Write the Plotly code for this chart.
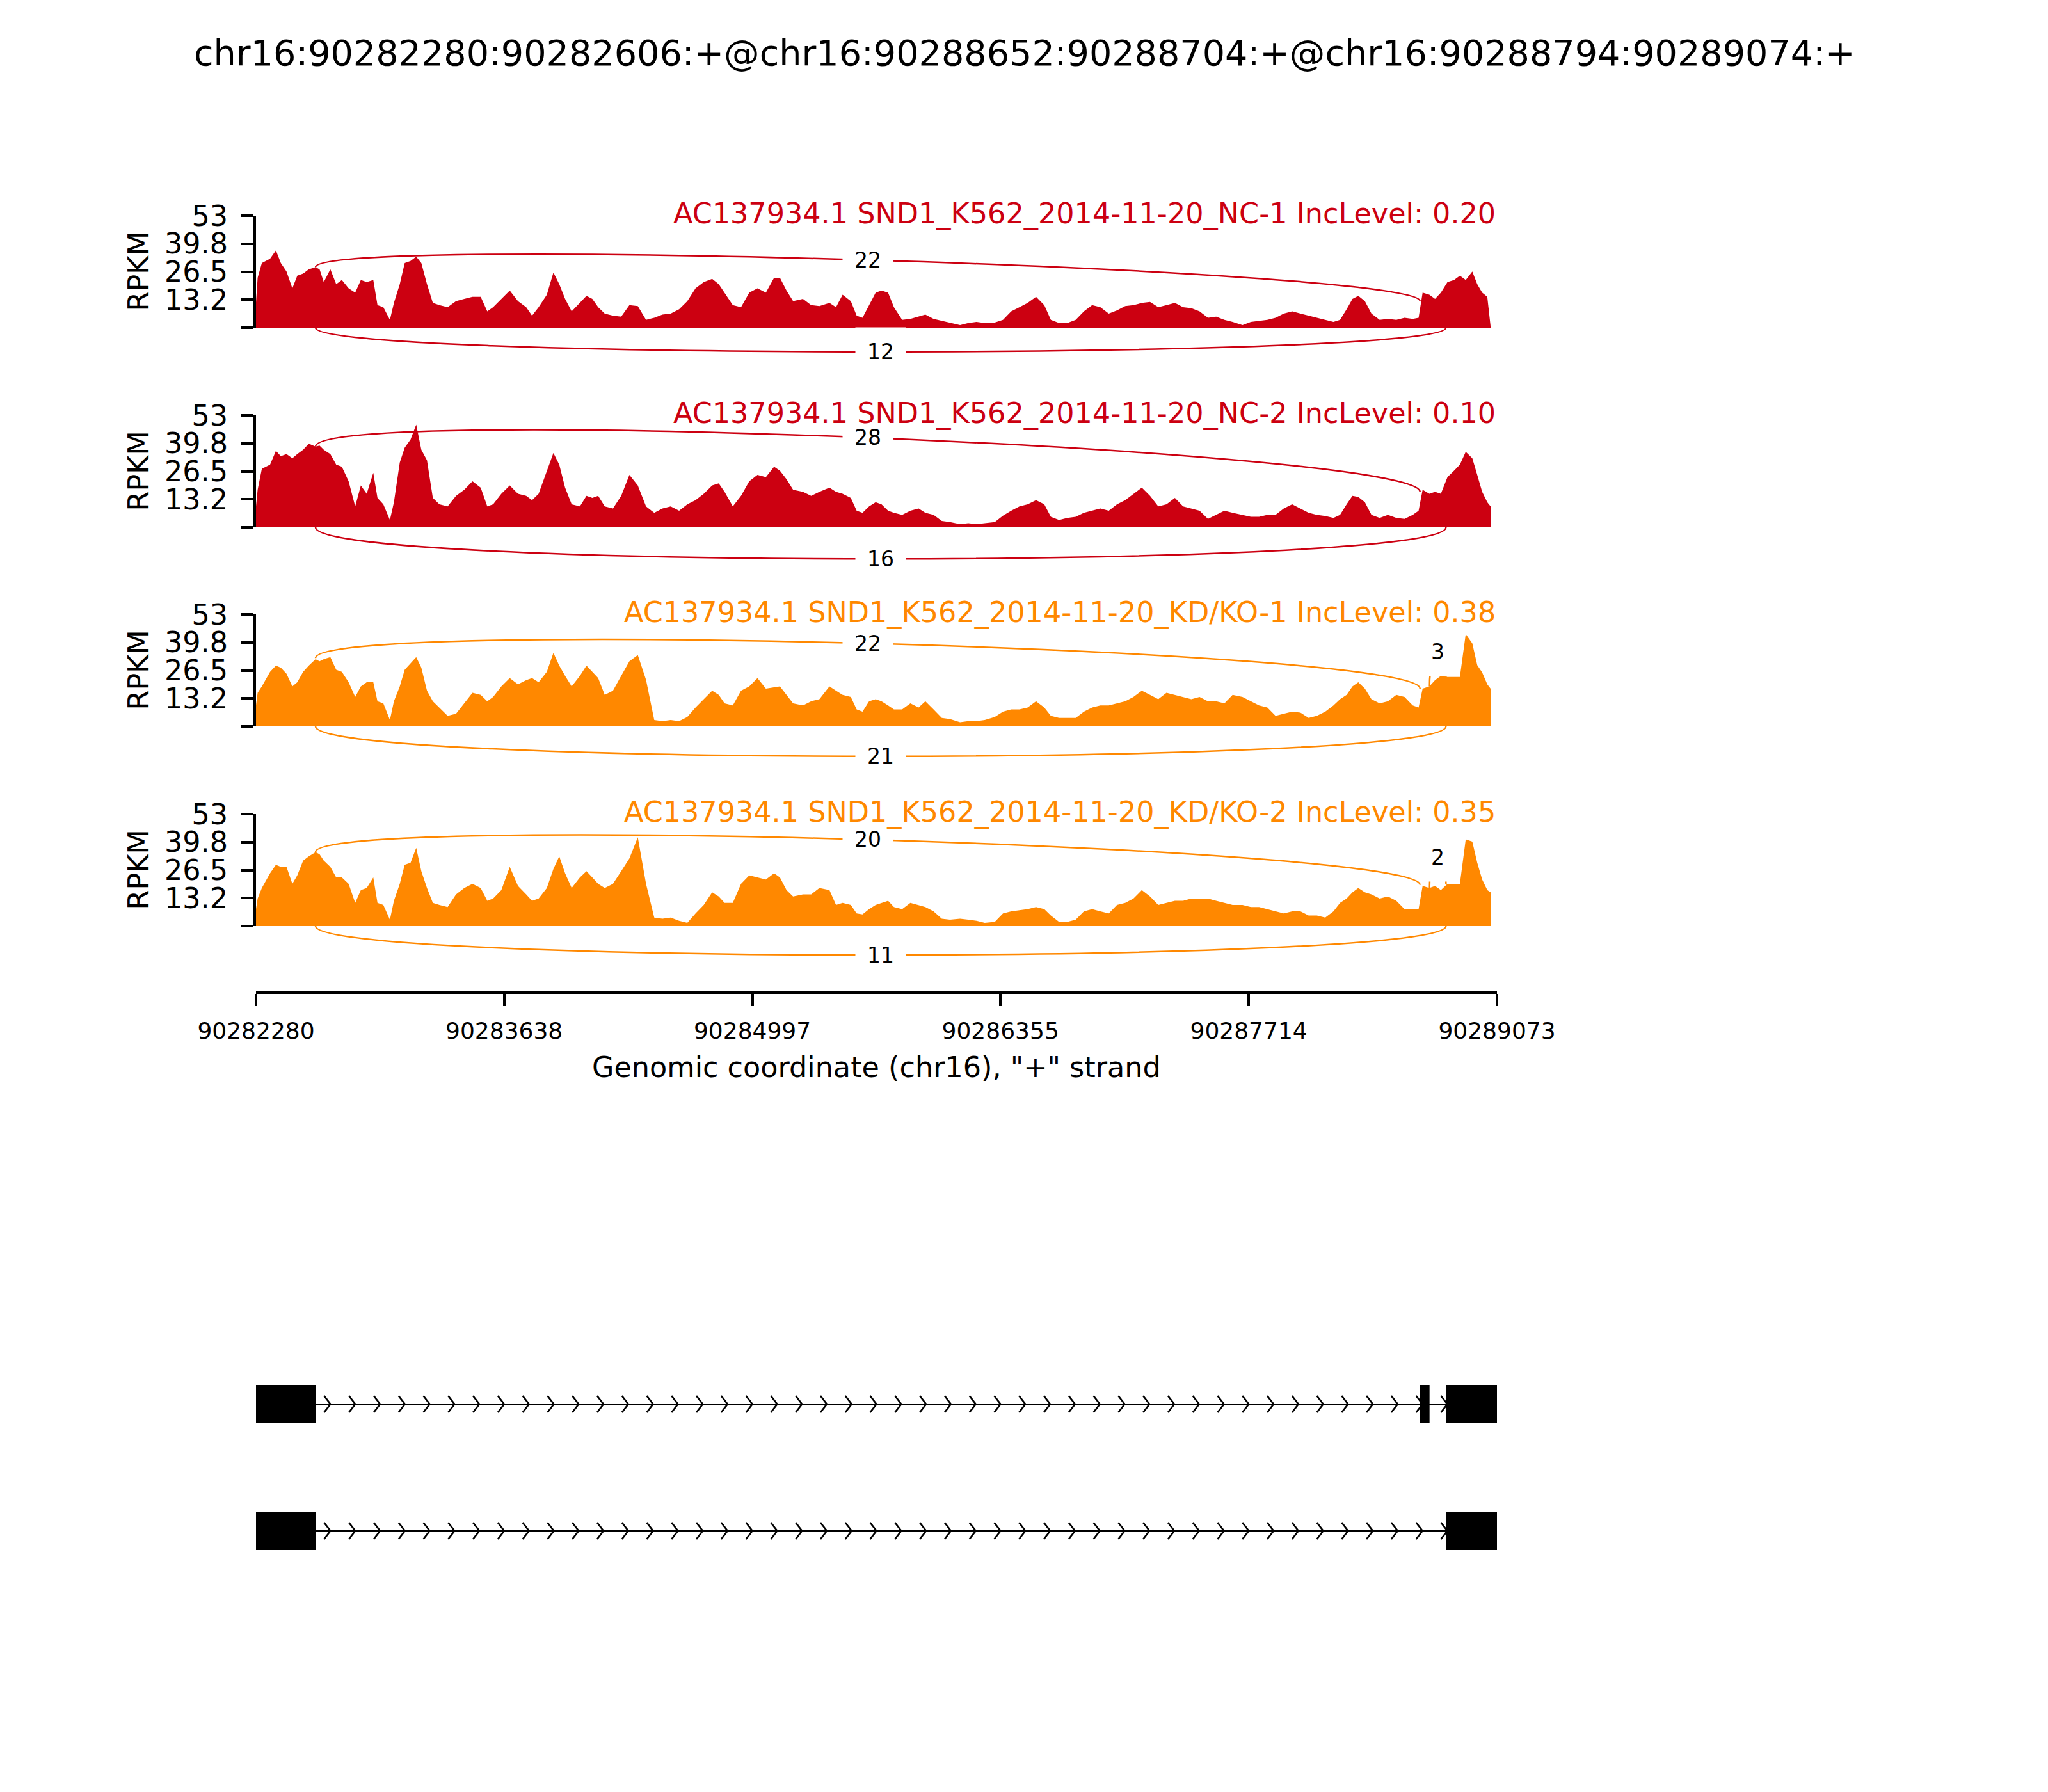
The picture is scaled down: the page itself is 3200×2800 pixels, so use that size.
import plotly.graph_objects as go

# ---------------- data ----------------
REGION_START = 90282280
REGION_END = 90289073
TITLE = "chr16:90282280:90282606:+@chr16:90288652:90288704:+@chr16:90288794:90289074:+"
X_TICKS = [90282280, 90283638, 90284997, 90286355, 90287714, 90289073]
Y_TICKS = [0, 13.2, 26.5, 39.8, 53]
Y_TICK_TEXT = ["", "13.2", "26.5", "39.8", "53"]
Y_MAX = 53
X_TITLE = 'Genomic coordinate (chr16), "+" strand'

SAMPLE_NAMES = [
    "AC137934.1 SND1_K562_2014-11-20_NC-1",
    "AC137934.1 SND1_K562_2014-11-20_NC-2",
    "AC137934.1 SND1_K562_2014-11-20_KD/KO-1",
    "AC137934.1 SND1_K562_2014-11-20_KD/KO-2",
]
INC_LEVELS = ["0.20", "0.10", "0.38", "0.35"]
COLORS = ["#CC0011", "#CC0011", "#FF8800", "#FF8800"]

EXON1 = (90282280, 90282606)
EXON2 = (90288652, 90288704)
EXON3 = (90288794, 90289074)
TX1_EXONS = [EXON1, EXON2, EXON3]
TX2_EXONS = [EXON1, EXON3]

# coverage sample positions (bp offset from REGION_START)
POS_OFFSET = [
    0, 9, 32, 77, 109, 136, 167, 199, 226, 258,
    289, 326, 348, 371, 407, 439, 470, 507, 543, 574,
    606, 642, 665, 697, 733, 755, 787, 814, 846, 877,
    905, 936, 968, 1004, 1049, 1095, 1140, 1185, 1230, 1266,
    1298, 1343, 1389, 1434, 1479, 1511, 1547, 1592, 1628, 1660,
    1692, 1728, 1773, 1809, 1841, 1873, 1909, 1954, 1999, 2044,
    2090, 2135, 2180, 2225, 2270, 2316, 2361, 2406, 2451, 2497,
    2533, 2565, 2610, 2655, 2700, 2745, 2791, 2836, 2868, 2904,
    2940, 2994, 3039, 3084, 3139, 3175, 3211, 3256, 3288, 3320,
    3356, 3392, 3424, 3460, 3492, 3537, 3582, 3627, 3664, 3709,
    3754, 3799, 3854, 3899, 3944, 3989, 4044, 4089, 4134, 4179,
    4224, 4270, 4315, 4351, 4396, 4441, 4487, 4532, 4577, 4622,
    4668, 4713, 4758, 4803, 4849, 4894, 4939, 4984, 5030, 5075,
    5120, 5165, 5211, 5256, 5301, 5346, 5400, 5446, 5491, 5536,
    5581, 5626, 5672, 5717, 5762, 5807, 5853, 5898, 5934, 5970,
    6002, 6034, 6070, 6106, 6151, 6196, 6242, 6287, 6332, 6364,
    6386, 6423, 6454, 6486, 6522, 6558, 6590, 6622, 6658, 6685,
    6712, 6740, 6758,
]

RPKM_NC1 = [
    12, 23.6, 30.6, 32.6, 36.6, 30.6, 26.6, 18.6, 24.6, 25.6,
    27.6, 28.6, 27.6, 21.6, 27.6, 20.6, 22.6, 18.6, 16.6, 22.6,
    21.6, 22.6, 10.7, 9.7, 3.7, 11.7, 20.6, 30.6, 31.6, 33.6,
    30.6, 20.6, 11.7, 10.7, 9.7, 12.6, 13.6, 14.6, 14.6, 7.7,
    9.7, 13.6, 17.6, 12.6, 9.7, 5.7, 9.7, 15.6, 26.1, 20.6,
    13.6, 7.7, 11.7, 15.1, 13.6, 9.7, 6.7, 5.7, 5.2, 10.7,
    10.2, 3.7, 4.7, 6.2, 6.7, 8.7, 12.6, 18.6, 21.6, 23.1,
    20.6, 16.6, 10.7, 9.7, 16.6, 18.6, 16.6, 23.6, 23.6, 17.6,
    12.6, 13.6, 10.7, 10.2, 11.7, 9.7, 15.6, 12.6, 5.7, 4.7,
    10.7, 16.6, 17.6, 16.6, 9.7, 3.7, 4.2, 5.2, 6.2, 4.2,
    3.2, 2.2, 1.2, 2.2, 2.7, 2.2, 2.4, 3.7, 7.7, 9.7,
    11.7, 14.6, 10.7, 3.7, 2.2, 2.2, 3.7, 7.7, 10.7, 9.7,
    6.7, 8.2, 10.2, 10.7, 11.7, 12.2, 9.7, 10.7, 11.7, 9.7,
    9.2, 7.7, 4.7, 5.2, 3.7, 2.7, 1.2, 2.7, 3.2, 3.7,
    4.7, 6.7, 7.7, 6.7, 5.7, 4.7, 3.7, 2.7, 3.7, 8.7,
    13.6, 15.1, 12.6, 6.7, 3.7, 4.2, 3.7, 4.7, 4.2, 4.7,
    16.6, 15.6, 13.6, 16.6, 21.6, 22.6, 24.6, 22.6, 26.6, 20.6,
    16.6, 14.6, 0.7,
]

RPKM_NC2 = [
    10, 17.8, 27.7, 29.7, 36.2, 33.7, 34.7, 32.7, 34.7, 36.7,
    39.6, 38.2, 38.7, 36.7, 34.7, 29.7, 28.7, 21.8, 9.9, 19.8,
    15.9, 25.8, 13.9, 10.9, 3.5, 11.9, 30.7, 37.7, 41.6, 48.6,
    36.7, 31.7, 13.9, 10.9, 9.9, 14.9, 17.8, 21.8, 18.8, 9.9,
    10.9, 15.9, 19.8, 15.9, 14.9, 12.9, 15.9, 26.8, 35.2, 29.7,
    18.8, 10.9, 9.9, 14.9, 13.9, 14.9, 9.9, 8.9, 14.9, 24.8,
    19.8, 9.9, 6.9, 8.9, 9.9, 7.9, 10.9, 12.9, 15.9, 19.8,
    20.8, 16.8, 9.9, 14.9, 21.8, 24.8, 23.8, 28.7, 26.8, 22.8,
    17.8, 16.8, 14.9, 16.8, 18.8, 16.8, 15.9, 13.9, 7.9, 6.9,
    9.9, 11.9, 10.9, 7.9, 6.9, 5.9, 7.9, 8.9, 6.9, 5.9,
    3.0, 2.5, 1.5, 2.0, 1.5, 2.0, 2.5, 5.5, 7.9, 9.9,
    10.9, 12.9, 10.9, 5.0, 3.5, 4.5, 5.0, 6.9, 7.9, 8.9,
    7.9, 10.9, 12.9, 15.9, 18.8, 14.9, 9.9, 10.9, 13.9, 9.9,
    8.9, 7.9, 4.0, 5.9, 7.9, 6.9, 5.9, 5.0, 5.0, 5.9,
    5.9, 8.9, 10.9, 8.9, 6.9, 5.9, 5.4, 4.5, 5.9, 10.9,
    14.9, 14.4, 11.9, 5.9, 4.5, 5.9, 4.5, 4.0, 5.9, 7.9,
    17.8, 15.9, 16.8, 15.9, 23.8, 26.8, 29.7, 35.7, 32.7, 24.8,
    16.8, 11.9, 9.9,
]

RPKM_KD1 = [
    10, 15.9, 18.9, 25.8, 28.8, 27.8, 24.9, 18.9, 20.9, 25.8,
    28.8, 31.8, 30.8, 31.8, 32.8, 26.8, 25.8, 20.9, 13.9, 18.9,
    20.9, 20.9, 11.9, 10.9, 3.0, 11.9, 18.9, 26.8, 29.8, 32.8,
    27.8, 16.9, 11.9, 8.9, 5.0, 6.0, 10.9, 15.9, 14.9, 11.9,
    13.9, 18.9, 22.9, 19.9, 21.9, 22.9, 20.9, 25.8, 34.8, 28.8,
    23.9, 18.9, 23.9, 28.8, 25.8, 22.9, 14.9, 16.9, 23.9, 30.8,
    33.8, 22.0, 3.0, 2.5, 3.0, 2.5, 4.5, 8.9, 12.9, 16.9,
    14.9, 10.9, 9.9, 16.9, 18.9, 22.9, 17.9, 18.4, 18.9, 14.9,
    10.9, 9.9, 11.9, 12.9, 18.9, 16.9, 14.9, 13.9, 8.0, 7.0,
    11.9, 12.9, 11.9, 9.9, 8.0, 8.0, 10.9, 8.9, 11.9, 8.0,
    4.0, 3.5, 2.0, 2.5, 2.5, 3.0, 4.5, 7.0, 8.0, 8.0,
    8.9, 11.9, 8.9, 5.0, 4.0, 4.0, 4.0, 7.0, 8.9, 9.9,
    9.9, 10.9, 11.9, 13.9, 16.9, 14.9, 12.9, 15.9, 14.9, 13.9,
    12.9, 13.9, 11.9, 11.9, 10.9, 14.9, 13.9, 11.9, 9.9, 8.9,
    5.0, 6.0, 7.0, 6.5, 4.0, 5.0, 7.0, 9.9, 12.9, 14.9,
    18.9, 20.9, 17.9, 12.9, 10.9, 11.9, 14.9, 13.9, 9.9, 8.9,
    17.9, 18.9, 21.9, 23.9, 23.4, 23.4, 23.4, 43.7, 39.3, 29.0,
    25.5, 19.9, 17.9,
]

RPKM_KD2 = [
    8, 13, 18, 25, 29, 28, 28, 20, 24, 31,
    33, 35, 34, 31, 28, 23, 23, 20, 11, 17,
    18, 23, 11, 10, 3, 12, 20, 29, 30, 37,
    26, 18, 11, 10, 9, 15, 18, 20, 18, 12,
    13, 17, 28, 19, 15, 12, 13, 18, 27, 33,
    25, 18, 23, 26, 23, 20, 18, 20, 26, 32,
    42, 20, 4, 3.5, 4, 2.5, 1.5, 6, 10, 16,
    14, 11, 11, 20, 24, 23, 22, 25, 23, 17,
    14, 15, 15, 18, 17, 10, 11, 10, 6, 5.5,
    8, 10, 11, 12, 9, 8, 11, 10, 9, 7,
    3.5, 3, 3.5, 3, 2.5, 1.5, 2, 6, 7, 7.5,
    8, 9, 8, 5, 2, 2, 3, 7, 8, 7,
    6, 10, 11, 13, 17, 14, 10, 11, 12, 12,
    13, 13, 13, 12, 11, 10, 10, 9, 9, 8,
    7, 6, 7, 7, 5, 5, 4, 7, 11, 13,
    16, 18, 16, 15, 13, 14, 12, 8, 8, 8,
    19, 18, 19, 17, 20, 20, 20, 41, 40, 30,
    22, 17, 16,
]

COVERAGE = [RPKM_NC1, RPKM_NC2, RPKM_KD1, RPKM_KD2]

# junction read counts per sample
JXN_INC1 = (EXON1[1], EXON2[0])   # exon1 -> exon2 (drawn above)
JXN_SKIP = (EXON1[1], EXON3[0])   # exon1 -> exon3 (drawn below)
JXN_INC2 = (EXON2[1], EXON3[0])   # exon2 -> exon3 (drawn above)
INC1_COUNTS = [22, 28, 22, 20]
SKIP_COUNTS = [12, 16, 21, 11]
INC2_COUNTS = [0, 0, 3, 2]
# coverage heights at the splice sites where arcs start / end
INC1_LEFT_DENS = [28.6, 38.2, 32.3, 35.0]
INC1_RIGHT_DENS = [12.6, 16.8, 17.9, 19.5]
INC2_LEFT_DENS = [0, 0, 18.9, 18.0]
INC2_RIGHT_DENS = [0, 0, 23.4, 20.0]

# ---------------- layout (pixels) ----------------
W, H = 3200, 2800
OFF = 8                      # page body margin
PLOT_L, PLOT_R = 400, 2339
ZERO_PX = [512, 824, 1135, 1447]
PANEL_H = 175
ARC_RANGE = [-25, 58]
ARC_H = [15.2, 19.9, 18.9, 18.2]
XAXIS_PX = 1551
GENE_TOP_PX, GENE_BOT_PX = 2100, 2500
TX_ROW_Y = [306, 108]       # gene axis units == pixels
EXON_HALF = 30
CHEVRON_STEP = (REGION_END - REGION_START) / 50
CHEVRON_DX = 35
CHEVRON_DY = 13
FONT = "DejaVu Sans"


def px_(p):
    return (p - OFF) / W


def py(p):
    return 1 - (p - OFF) / H


fig = go.Figure()
px_per_unit = PANEL_H / Y_MAX
xs = [REGION_START + p for p in POS_OFFSET]

layout = dict(
    width=W, height=H, autosize=False,
    margin=dict(l=0, r=0, t=0, b=0, pad=0, autoexpand=False),
    paper_bgcolor="white", plot_bgcolor="rgba(0,0,0,0)",
    showlegend=False, hovermode=False,
    font=dict(family=FONT, color="black"),
    xaxis=dict(
        domain=[px_(PLOT_L), px_(PLOT_R)], range=[REGION_START, REGION_END],
        anchor="free", position=py(XAXIS_PX), automargin=False,
        showline=True, linecolor="black", linewidth=4,
        ticks="outside", ticklen=19, tickwidth=4, tickcolor="black",
        tickvals=X_TICKS, ticktext=[str(v) for v in X_TICKS],
        tickfont=dict(size=36, family=FONT), ticklabelstandoff=8,
        showgrid=False, zeroline=False, fixedrange=True,
    ),
)

shapes = []
annotations = []

for i in range(4):
    cov_id = i + 1
    arc_id = i + 5
    cov_name = "yaxis" if cov_id == 1 else f"yaxis{cov_id}"
    cov_ref = "y" if cov_id == 1 else f"y{cov_id}"
    arc_ref = f"y{arc_id}"
    z = ZERO_PX[i]
    layout[cov_name] = dict(
        domain=[py(z), py(z - PANEL_H)], range=[0, Y_MAX], anchor="x", automargin=False,
        showline=True, linecolor="black", linewidth=4,
        ticks="outside", ticklen=19, tickwidth=4, tickcolor="black",
        tickvals=Y_TICKS, ticktext=Y_TICK_TEXT,
        tickfont=dict(size=44.5, family=FONT), ticklabelstandoff=12,
        showgrid=False, zeroline=False, fixedrange=True,
    )
    layout[f"yaxis{arc_id}"] = dict(
        domain=[py(z - ARC_RANGE[0] * px_per_unit), py(z - ARC_RANGE[1] * px_per_unit)],
        range=ARC_RANGE, anchor="x", visible=False, fixedrange=True, automargin=False,
    )

    fig.add_trace(go.Scatter(
        x=xs, y=COVERAGE[i], mode="lines", line=dict(width=0, color=COLORS[i]),
        fill="tozeroy", fillcolor=COLORS[i], xaxis="x", yaxis=cov_ref,
        hoverinfo="skip",
    ))
    fig.add_trace(go.Scatter(
        x=[REGION_START], y=[0], mode="markers", marker=dict(opacity=0),
        xaxis="x", yaxis=arc_ref, hoverinfo="skip",
    ))

    h = ARC_H[i]
    arcs = [
        (JXN_INC1, INC1_LEFT_DENS[i], INC1_RIGHT_DENS[i], h, INC1_COUNTS[i]),
        (JXN_SKIP, 0, 0, -h, SKIP_COUNTS[i]),
        (JXN_INC2, INC2_LEFT_DENS[i], INC2_RIGHT_DENS[i], h, INC2_COUNTS[i]),
    ]
    for (a, b), ya, yb, hh, cnt in arcs:
        if cnt <= 0:
            continue
        shapes.append(dict(
            type="path", xref="x", yref=arc_ref, layer="above",
            path=f"M {a},{ya} C {a},{ya + hh} {b},{yb + hh} {b},{yb}",
            line=dict(color=COLORS[i], width=2.5), fillcolor="rgba(0,0,0,0)",
        ))
        annotations.append(dict(
            x=(a + b) / 2, y=(ya + yb) / 2 + 0.75 * hh, xref="x", yref=arc_ref,
            text=str(cnt), showarrow=False, font=dict(size=33, color="black", family=FONT),
            bgcolor="white", borderpad=18, xanchor="center", yanchor="middle",
        ))

    # sample title
    annotations.append(dict(
        x=REGION_END, y=Y_MAX, xref="x", yref=cov_ref, xanchor="right", yanchor="middle",
        yshift=3, showarrow=False,
        text=f"{SAMPLE_NAMES[i]} IncLevel: {INC_LEVELS[i]}",
        font=dict(size=44.5, color=COLORS[i], family=FONT),
    ))
    # RPKM label
    annotations.append(dict(
        x=px_(216), y=py(z - PANEL_H / 2), xref="paper", yref="paper",
        text="RPKM", textangle=-90, showarrow=False, xanchor="center", yanchor="middle",
        font=dict(size=44.5, color="black", family=FONT),
    ))

# gene structure
layout["yaxis9"] = dict(
    domain=[py(GENE_BOT_PX), py(GENE_TOP_PX)], range=[0, GENE_BOT_PX - GENE_TOP_PX],
    anchor="x", visible=False, fixedrange=True, automargin=False,
)
chev_x, chev_y = [], []
for row_y in TX_ROW_Y:
    k = 0
    while REGION_START + k * CHEVRON_STEP <= REGION_END + 1:
        apex = REGION_START + k * CHEVRON_STEP
        chev_x += [apex - CHEVRON_DX, apex, apex - CHEVRON_DX, None]
        chev_y += [row_y + CHEVRON_DY, row_y, row_y - CHEVRON_DY, None]
        k += 1
fig.add_trace(go.Scatter(
    x=chev_x, y=chev_y, mode="lines", line=dict(color="black", width=2.7),
    xaxis="x", yaxis="y9", hoverinfo="skip", connectgaps=False,
))
for row_y, exons in zip(TX_ROW_Y, [TX1_EXONS, TX2_EXONS]):
    shapes.append(dict(
        type="line", xref="x", yref="y9", layer="above",
        x0=exons[0][0], x1=exons[-1][1], y0=row_y, y1=row_y,
        line=dict(color="black", width=2.2),
    ))
    for s, e in exons:
        shapes.append(dict(
            type="rect", xref="x", yref="y9", layer="above",
            x0=s, x1=e, y0=row_y - EXON_HALF, y1=row_y + EXON_HALF,
            fillcolor="black", line=dict(width=0),
        ))

# titles
annotations.append(dict(
    x=px_(1600), y=py(82), xref="paper", yref="paper", text=TITLE, showarrow=False,
    xanchor="center", yanchor="middle", font=dict(size=55.6, color="black", family=FONT),
))
annotations.append(dict(
    x=px_((PLOT_L + PLOT_R) / 2), y=py(1667), xref="paper", yref="paper", text=X_TITLE,
    showarrow=False, xanchor="center", yanchor="middle",
    font=dict(size=44.5, color="black", family=FONT),
))

layout["shapes"] = shapes
layout["annotations"] = annotations
fig.update_layout(**layout)
fig.write_html("out.html")
